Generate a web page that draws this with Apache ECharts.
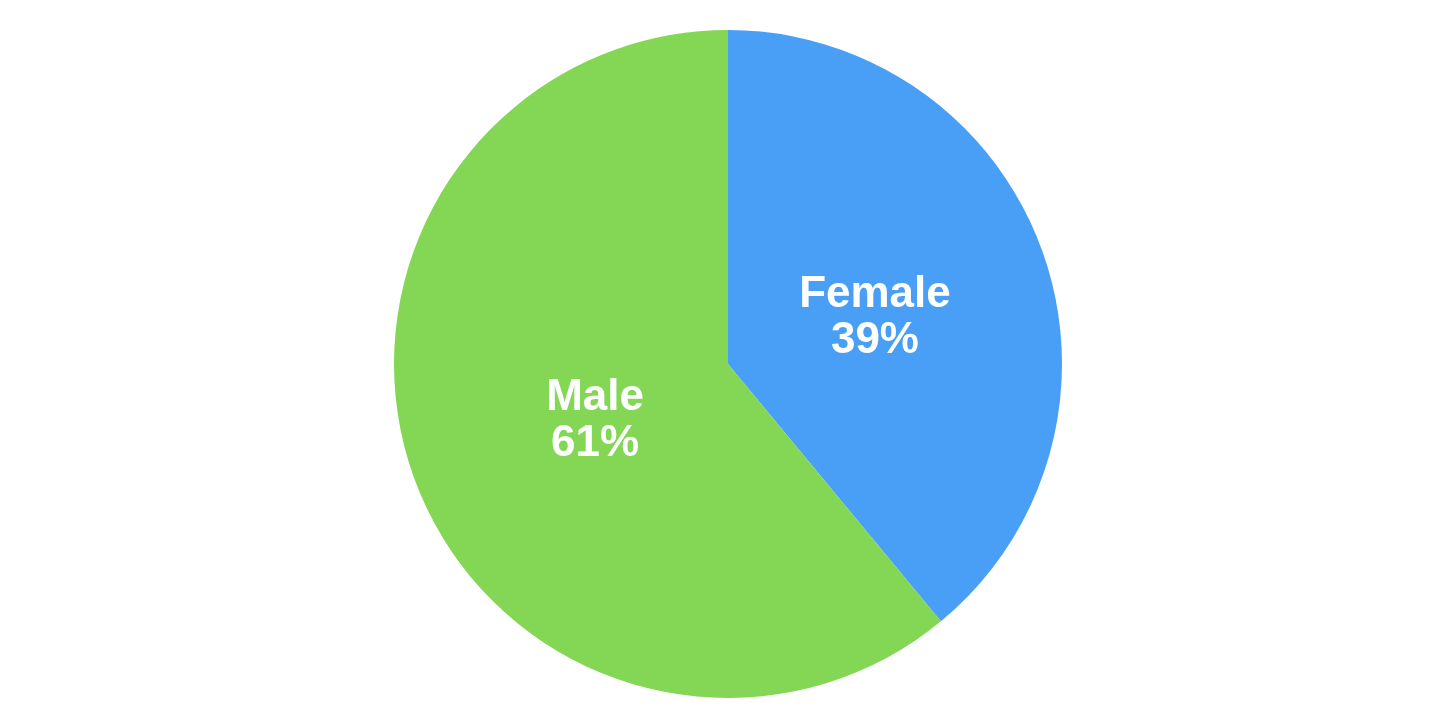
<!DOCTYPE html>
<html><head><meta charset="utf-8">
<script src="https://cdn.jsdelivr.net/npm/echarts@6/dist/echarts.min.js"></script>
<style>html,body{margin:0;padding:0;background:#fff}#c{width:1456px;height:728px}</style>
</head><body><div id="c"></div>
<script>
const categories = ["Female", "Male"];
const values = [39, 61];
const colors = ["#489FF5", "#84D655"];
const labelOffsets = [[-13, 11], [27, -1]];

const chart = echarts.init(document.getElementById('c'));
chart.setOption({
  animation: false,
  series: [{
    type: 'pie',
    center: [728, 364],
    radius: [0, 334],
    startAngle: 90,
    clockwise: true,
    itemStyle: { borderWidth: 0 },
    label: {
      show: true,
      position: 'inside',
      formatter: p => p.name + '\n' + p.value + '%',
      color: '#fff',
      fontSize: 44,
      fontWeight: 'bold',
      lineHeight: 46,
      fontFamily: 'Liberation Sans, Arial, sans-serif'
    },
    labelLine: { show: false },
    data: categories.map((c, i) => ({
      name: c, value: values[i],
      itemStyle: { color: colors[i] },
      label: { offset: labelOffsets[i] }
    }))
  }]
});
</script></body></html>
